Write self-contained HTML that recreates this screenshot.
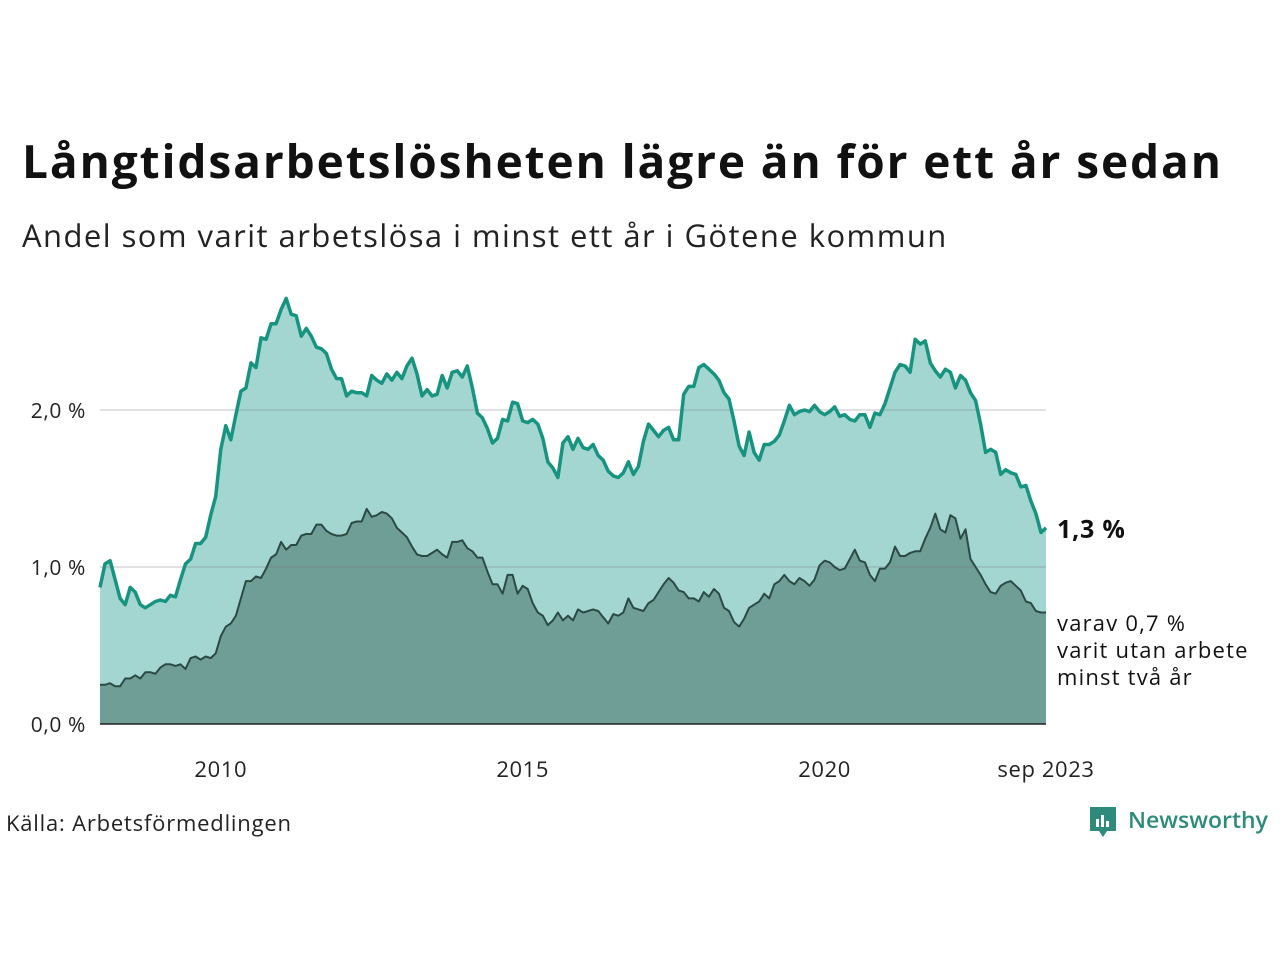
<!DOCTYPE html>
<html><head><meta charset="utf-8"><style>
body{margin:0;width:1280px;height:960px;background:#fff;font-family:"Open Sans","Liberation Sans","DejaVu Sans",sans-serif;overflow:hidden;position:relative}
.t{position:absolute;white-space:nowrap;color:#111}
</style></head><body>
<div class="t" style="left:22px;top:130px;font-size:46px;font-weight:bold;letter-spacing:1.9px">Långtidsarbetslösheten lägre än för ett år sedan</div>
<div class="t" style="left:22px;top:215px;font-size:31px;color:#222;letter-spacing:1.45px">Andel som varit arbetslösa i minst ett år i Götene kommun</div>
<svg id="chart" width="1280" height="960" style="position:absolute;left:0;top:0" font-family="'Open Sans','Liberation Sans',sans-serif"></svg>
<div class="t" style="left:6px;top:808px;font-size:22px;color:#222;letter-spacing:0.8px">Källa: Arbetsförmedlingen</div>
<div style="position:absolute;left:1088px;top:805px;">
<svg width="30" height="36"><path d="M2 2h26v24H19l-4 6-4-6H2z" fill="#2e8b7b"/><rect x="8" y="14" width="3" height="8" fill="#fff"/><rect x="13" y="10" width="3" height="12" fill="#fff"/><rect x="18" y="16" width="3" height="6" fill="#fff"/></svg>
<span class="t" style="left:40px;top:-2px;font-size:23px;color:#2e8b7b;font-weight:600">Newsworthy</span></div>
<script>
const total=[0.87,1.02,1.04,0.92,0.80,0.76,0.87,0.84,0.76,0.74,0.76,0.78,
0.79,0.78,0.82,0.81,0.92,1.02,1.05,1.15,1.15,1.19,1.33,1.45,
1.75,1.90,1.81,1.97,2.12,2.14,2.30,2.27,2.46,2.45,2.55,2.55,
2.64,2.71,2.61,2.60,2.47,2.52,2.47,2.40,2.39,2.36,2.26,2.20,
2.20,2.09,2.12,2.11,2.11,2.09,2.22,2.19,2.17,2.23,2.19,2.24,
2.20,2.28,2.33,2.23,2.09,2.13,2.09,2.10,2.22,2.14,2.24,2.25,
2.21,2.28,2.14,1.98,1.95,1.88,1.79,1.82,1.94,1.93,2.05,2.04,
1.93,1.92,1.94,1.91,1.82,1.67,1.63,1.57,1.79,1.83,1.75,1.82,
1.76,1.75,1.78,1.71,1.68,1.61,1.58,1.57,1.60,1.67,1.59,1.64,
1.80,1.91,1.87,1.83,1.87,1.89,1.81,1.81,2.10,2.15,2.15,2.27,
2.29,2.26,2.23,2.19,2.11,2.07,1.93,1.77,1.71,1.86,1.73,1.68,
1.78,1.78,1.80,1.84,1.93,2.03,1.97,1.99,2.00,1.99,2.03,1.99,
1.97,1.99,2.02,1.96,1.97,1.94,1.93,1.97,1.97,1.89,1.98,1.97,
2.04,2.14,2.24,2.29,2.28,2.24,2.45,2.42,2.44,2.30,2.25,2.21,
2.26,2.24,2.14,2.22,2.19,2.11,2.06,1.91,1.73,1.75,1.73,1.59,
1.62,1.60,1.59,1.51,1.52,1.42,1.34,1.22,1.25];
const longterm=[0.25,0.25,0.26,0.24,0.24,0.29,0.29,0.31,0.29,0.33,0.33,0.32,
0.36,0.38,0.38,0.37,0.38,0.35,0.42,0.43,0.41,0.43,0.42,0.45,
0.56,0.62,0.64,0.69,0.80,0.91,0.91,0.94,0.93,0.99,1.06,1.08,
1.16,1.11,1.14,1.14,1.20,1.21,1.21,1.27,1.27,1.23,1.21,1.20,
1.20,1.21,1.28,1.29,1.29,1.37,1.32,1.33,1.35,1.34,1.31,1.25,
1.22,1.19,1.13,1.08,1.07,1.07,1.09,1.11,1.08,1.06,1.16,1.16,
1.17,1.12,1.10,1.06,1.06,0.97,0.89,0.89,0.83,0.95,0.95,0.83,
0.88,0.86,0.77,0.71,0.69,0.63,0.66,0.71,0.66,0.69,0.66,0.73,
0.71,0.72,0.73,0.72,0.68,0.64,0.70,0.69,0.71,0.80,0.74,0.73,
0.72,0.77,0.79,0.84,0.89,0.93,0.90,0.85,0.84,0.80,0.80,0.78,
0.84,0.81,0.86,0.83,0.74,0.72,0.65,0.62,0.67,0.74,0.76,0.78,
0.83,0.80,0.89,0.91,0.95,0.91,0.89,0.93,0.91,0.88,0.92,1.01,
1.04,1.03,1.00,0.98,0.99,1.05,1.11,1.04,1.03,0.95,0.91,0.99,
0.99,1.03,1.13,1.07,1.07,1.09,1.10,1.10,1.18,1.25,1.34,1.24,
1.22,1.33,1.31,1.18,1.24,1.05,1.00,0.95,0.89,0.84,0.83,0.88,
0.90,0.91,0.88,0.85,0.78,0.77,0.72,0.71,0.71];
const yTicks=[0,1,2];
const yTickLabels=["0,0 %","1,0 %","2,0 %"];
const xTickMonths=[24,84,144,188];
const xTickLabels=["2010","2015","2020","sep 2023"];

const NS="http://www.w3.org/2000/svg",svg=document.getElementById('chart');
const x0=100,x1=1046,yb=724,pxPer=157;
const X=i=>x0+(x1-x0)*i/(total.length-1);
const Y=v=>yb-v*pxPer;
function mk(t,a){const e=document.createElementNS(NS,t);for(const k in a)e.setAttribute(k,a[k]);svg.appendChild(e);return e;}
function pts(arr){return arr.map((v,i)=>X(i).toFixed(1)+','+Y(v).toFixed(1)).join(' ');}
let e;
e=mk('polygon',{points:x0+','+yb+' '+pts(total)+' '+x1+','+yb,fill:'#a3d6d0'});


e=mk('polygon',{points:x0+','+yb+' '+pts(longterm)+' '+x1+','+yb,fill:'#6f9e96'});


yTicks.forEach((v,k)=>{
 if(v>0){e=mk('line',{x1:x0,x2:x1,y1:Y(v),y2:Y(v),stroke:'rgba(120,120,130,0.22)','stroke-width':2});
 
 }
 e=mk('text',{x:86,y:Y(v)+8,'text-anchor':'end','font-size':21,fill:'#222','letter-spacing':0.6});e.textContent=yTickLabels[k];
 
 
});
e=mk('line',{x1:x0,x2:x1,y1:yb,y2:yb,stroke:'#222','stroke-width':1.5});


xTickMonths.forEach((m,k)=>{e=mk('text',{x:X(m),y:777,'text-anchor':'middle','font-size':22,fill:'#222','letter-spacing':0.6});e.textContent=xTickLabels[k];
 
 });
e=mk('polyline',{points:pts(total),fill:'none',stroke:'#17947f','stroke-width':3.5,'stroke-linejoin':'round'});


e=mk('polyline',{points:pts(longterm),fill:'none',stroke:'#2b4a45','stroke-width':2,'stroke-linejoin':'round'});


e=mk('text',{x:1057,y:538,'font-size':25,'font-weight':'bold',fill:'#111','letter-spacing':0.8});e.textContent='1,3 %';


['varav 0,7 %','varit utan arbete','minst två år'].forEach((s,k)=>{e=mk('text',{x:1057,y:631+k*27,'font-size':22,fill:'#111','letter-spacing':1.2});e.textContent=s;
 
 });
</script>
</body></html>
